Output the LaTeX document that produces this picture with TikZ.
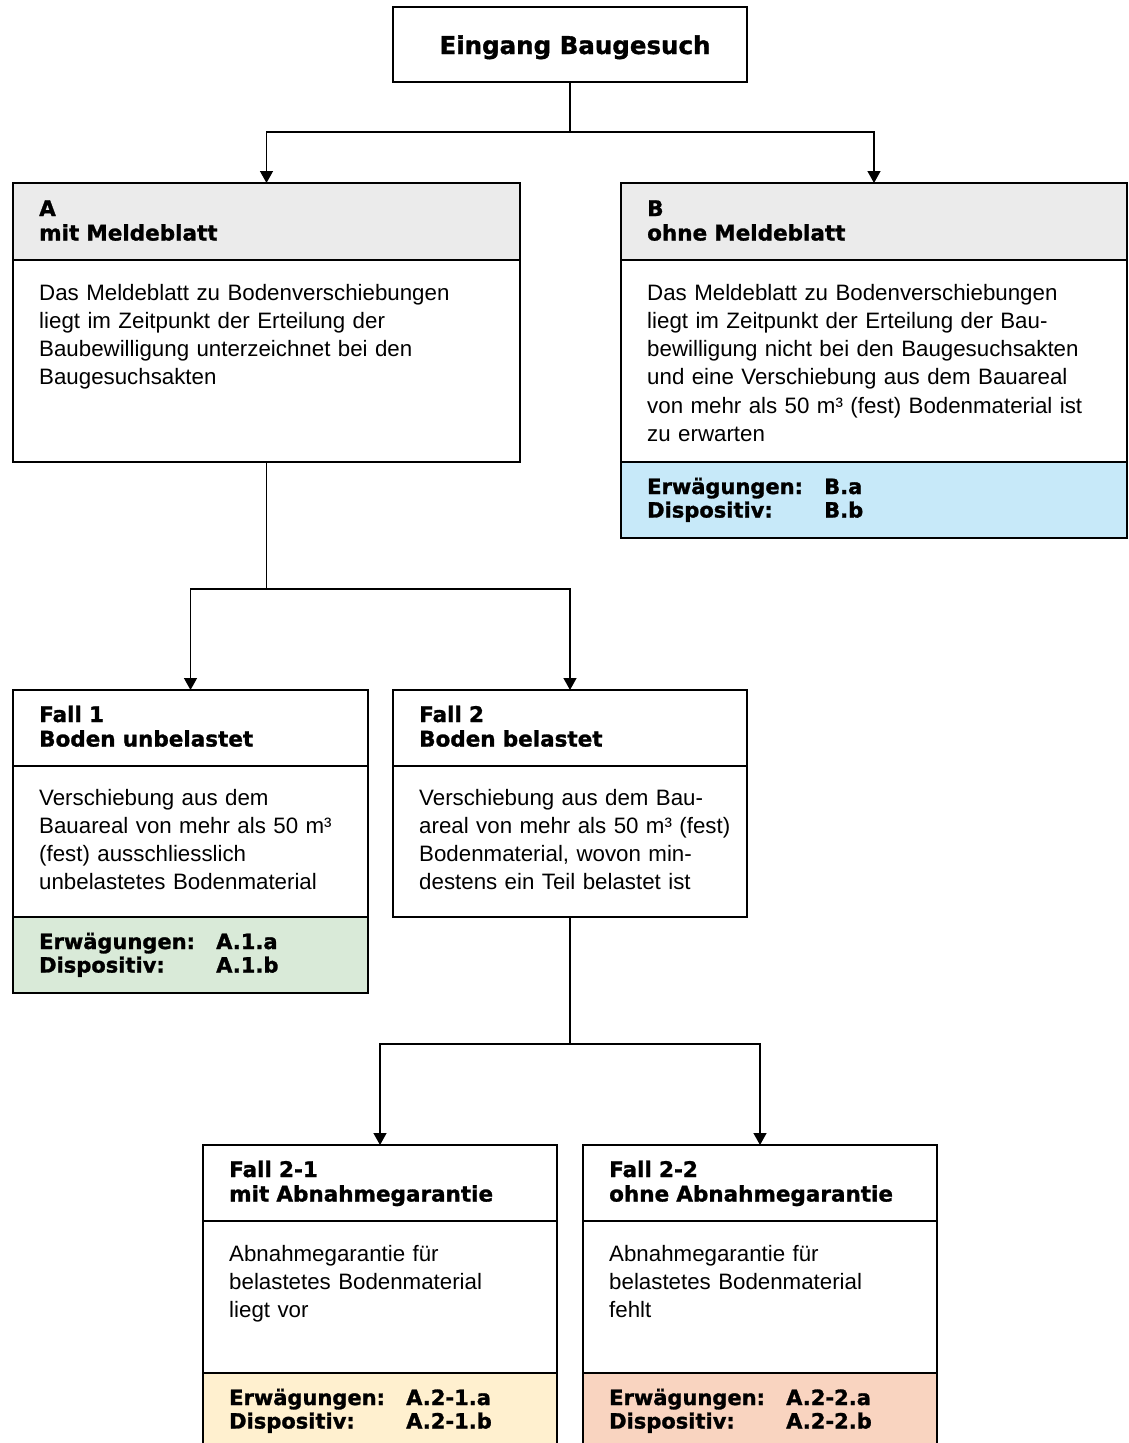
\documentclass[tikz,border=0pt]{standalone}
\usepackage{fontspec}
\setmainfont{Liberation Sans}
\newfontfamily\hdfont{DejaVu Sans Bold}[FakeBold=1.3]
\usetikzlibrary{arrows.meta}
\definecolor{hdgray}{RGB}{235,235,235}
\definecolor{cblue}{RGB}{199,233,249}
\definecolor{cgreen}{RGB}{217,234,216}
\definecolor{cyellow}{RGB}{255,240,207}
\definecolor{cpink}{RGB}{249,212,192}
\newcommand{\lbl}[2]{\makebox[177pt][l]{#1}#2}
\begin{document}
\begin{tikzpicture}[x=1pt,y=-1pt,
  frame/.style={draw=black, line width=1.4pt, inner sep=0pt, outer sep=0pt, anchor=north west},
  hdtext/.style={anchor=base west, inner sep=0pt, text width=440pt, align=left,
    font=\hdfont\fontsize{21.5}{24.5}\selectfont},
  fttext/.style={anchor=base west, inner sep=0pt, text width=440pt, align=left,
    font=\hdfont\fontsize{21}{23.5}\selectfont},
  bodytext/.style={anchor=base west, inner sep=0pt, text width=470pt, align=left,
    font=\fontsize{22.3}{28.3}\selectfont},
  conn/.style={draw=black, line width=1.4pt},
  arr/.style={conn, -{Triangle[width=13pt,length=12pt]}}
]
\clip (0,0) rectangle (1128,1443);
\fill[white] (0,0) rectangle (1128,1443);

% top box
\node[frame, minimum width=354pt, minimum height=75pt] (top) at (393,7) {};
\node[anchor=base, inner sep=0pt, font=\hdfont\fontsize{24.5}{28}\selectfont] (toptext) at (575,54) {Eingang Baugesuch};

% box A
\node[frame, fill=hdgray, minimum width=507pt, minimum height=77pt] (Ah) at (13,183) {};
\node[frame, minimum width=507pt, minimum height=202pt] (Ab) at (13,260) {};
\node[hdtext] (Aht) at (39,216) {A\\mit Meldeblatt};
\node[bodytext] (Abt) at (39,300) {Das Meldeblatt zu Bodenverschiebungen\\liegt im Zeitpunkt der Erteilung der\\Baubewilligung unterzeichnet bei den\\Baugesuchsakten};

% box B
\node[frame, fill=hdgray, minimum width=506pt, minimum height=77pt] (Bh) at (621,183) {};
\node[frame, minimum width=506pt, minimum height=202pt] (Bb) at (621,260) {};
\node[frame, fill=cblue, minimum width=506pt, minimum height=76pt] (Bf) at (621,462) {};
\node[hdtext] (Bht) at (647,216) {B\\ohne Meldeblatt};
\node[bodytext] (Bbt) at (647,300) {Das Meldeblatt zu Bodenverschiebungen\\liegt im Zeitpunkt der Erteilung der Bau-\\bewilligung nicht bei den Baugesuchsakten\\und eine Verschiebung aus dem Bauareal\\von mehr als 50 m³ (fest) Bodenmaterial ist\\zu erwarten};
\node[fttext] (Bft) at (647,494) {\lbl{Erwägungen:}{B.a}\\\lbl{Dispositiv:}{B.b}};

% Fall 1
\node[frame, minimum width=355pt, minimum height=76pt] (F1h) at (13,690) {};
\node[frame, minimum width=355pt, minimum height=151pt] (F1b) at (13,766) {};
\node[frame, fill=cgreen, minimum width=355pt, minimum height=76pt] (F1f) at (13,917) {};
\node[hdtext] (F1ht) at (39,722) {Fall 1\\Boden unbelastet};
\node[bodytext] (F1bt) at (39,805) {Verschiebung aus dem\\Bauareal von mehr als 50 m³\\(fest) ausschliesslich\\unbelastetes Bodenmaterial};
\node[fttext] (F1ft) at (39,949) {\lbl{Erwägungen:}{A.1.a}\\\lbl{Dispositiv:}{A.1.b}};

% Fall 2
\node[frame, minimum width=354pt, minimum height=76pt] (F2h) at (393,690) {};
\node[frame, minimum width=354pt, minimum height=151pt] (F2b) at (393,766) {};
\node[hdtext] (F2ht) at (419,722) {Fall 2\\Boden belastet};
\node[bodytext] (F2bt) at (419,805) {Verschiebung aus dem Bau-\\areal von mehr als 50 m³ (fest)\\Bodenmaterial, wovon min-\\destens ein Teil belastet ist};

% Fall 2-1
\node[frame, minimum width=354pt, minimum height=76pt] (F21h) at (203,1145) {};
\node[frame, minimum width=354pt, minimum height=152pt] (F21b) at (203,1221) {};
\node[frame, fill=cyellow, minimum width=354pt, minimum height=90pt] (F21f) at (203,1373) {};
\node[hdtext] (F21ht) at (229,1177) {Fall 2-1\\mit Abnahmegarantie};
\node[bodytext] (F21bt) at (229,1261) {Abnahmegarantie für\\belastetes Bodenmaterial\\liegt vor};
\node[fttext] (F21ft) at (229,1405) {\lbl{Erwägungen:}{A.2-1.a}\\\lbl{Dispositiv:}{A.2-1.b}};

% Fall 2-2
\node[frame, minimum width=354pt, minimum height=76pt] (F22h) at (583,1145) {};
\node[frame, minimum width=354pt, minimum height=152pt] (F22b) at (583,1221) {};
\node[frame, fill=cpink, minimum width=354pt, minimum height=90pt] (F22f) at (583,1373) {};
\node[hdtext] (F22ht) at (609,1177) {Fall 2-2\\ohne Abnahmegarantie};
\node[bodytext] (F22bt) at (609,1261) {Abnahmegarantie für\\belastetes Bodenmaterial\\fehlt};
\node[fttext] (F22ft) at (609,1405) {\lbl{Erwägungen:}{A.2-2.a}\\\lbl{Dispositiv:}{A.2-2.b}};

% connectors
\path (top.south) ++(0,50) coordinate (j0);
\draw[conn] (top.south) -- (j0);
\draw[arr] (j0) -| (Ah.north);
\draw[arr] (j0) -| (Bh.north);

\path (Ab.south) ++(0,127) coordinate (j1);
\draw[conn] (Ab.south) -- (j1);
\draw[arr] (j1) -| (F1h.north);
\draw[arr] (j1) -| (F2h.north);

\path (F2b.south) ++(0,127) coordinate (j2);
\draw[conn] (F2b.south) -- (j2);
\draw[arr] (j2) -| (F21h.north);
\draw[arr] (j2) -| (F22h.north);
\end{tikzpicture}
\end{document}
